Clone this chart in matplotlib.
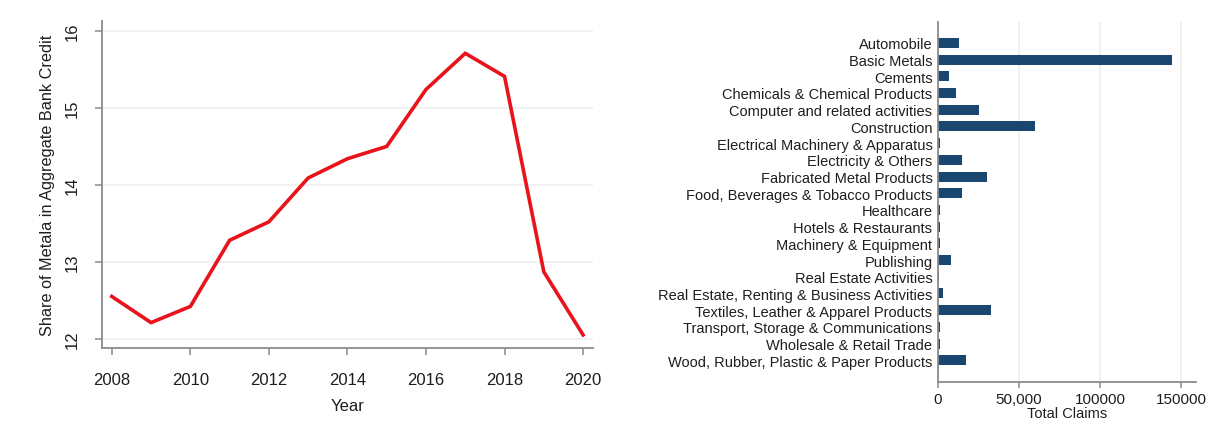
import matplotlib
matplotlib.use("Agg")
import matplotlib.pyplot as plt
from matplotlib.ticker import FixedLocator, FixedFormatter

plt.rcParams['font.family'] = ['Liberation Sans', 'DejaVu Sans']

# Share of metals in aggregate bank credit (%)
years = [2008, 2009, 2010, 2011, 2012, 2013, 2014, 2015, 2016, 2017, 2018, 2019, 2020]
metal_share = [12.55, 12.21, 12.42, 13.28, 13.52, 14.09, 14.34, 14.50, 15.24, 15.71, 15.41, 12.87, 12.05]

# Total claims by industry
industries = [
    "Automobile",
    "Basic Metals",
    "Cements",
    "Chemicals & Chemical Products",
    "Computer and related activities",
    "Construction",
    "Electrical Machinery & Apparatus",
    "Electricity & Others",
    "Fabricated Metal Products",
    "Food, Beverages & Tobacco Products",
    "Healthcare",
    "Hotels & Restaurants",
    "Machinery & Equipment",
    "Publishing",
    "Real Estate Activities",
    "Real Estate, Renting & Business Activities",
    "Textiles, Leather & Apparel Products",
    "Transport, Storage & Communications",
    "Wholesale & Retail Trade",
    "Wood, Rubber, Plastic & Paper Products",
]
total_claims = [13000, 144500, 7000, 11300, 25100, 59600, 1200, 14500, 30400, 14500,
                1500, 1500, 1200, 8000, 800, 3000, 33000, 1200, 1200, 17300]

x_ticks = [0, 50000, 100000, 150000]
x_tick_labels = ["0", "50,000", "100000", "150000"]

spine_col = "#8a8a8a"
grid_col = "#efefef"
text_col = "#1e1e1e"

fig = plt.figure(figsize=(12.11, 4.39), dpi=100)

# ---- Left panel: line chart ----
ax1 = fig.add_axes([0.0842, 0.2050, 0.4054, 0.7449])
ax1.plot(years, metal_share, color="#e8131b", lw=2.6, solid_joinstyle="miter")
ax1.set_xlim(2007.75, 2020.25)
ax1.set_ylim(11.88, 16.13)
ax1.set_xticks(range(2008, 2021, 2))
ax1.set_yticks([12, 13, 14, 15, 16])
ax1.grid(axis="y", color=grid_col, lw=1.2)
ax1.set_axisbelow(True)
for s in ["top", "right"]:
    ax1.spines[s].set_visible(False)
for s in ["left", "bottom"]:
    ax1.spines[s].set_color(spine_col)
    ax1.spines[s].set_linewidth(1.3)
ax1.tick_params(colors=spine_col, labelcolor=text_col, labelsize=12, length=5, width=1.1)
for lbl in ax1.get_yticklabels():
    lbl.set_rotation(90)
    lbl.set_va("center")
ax1.tick_params(axis="x", pad=12)
ax1.tick_params(axis="y", pad=11)
ax1.set_xlabel("Year", fontsize=12, color=text_col, labelpad=8)
ax1.set_ylabel("Share of Metala in Aggregate Bank Credit", fontsize=11.7, color=text_col, labelpad=7)

# ---- Right panel: horizontal bars ----
ax2 = fig.add_axes([0.7746, 0.1276, 0.2130, 0.8200])
pos = list(range(len(industries)))
ax2.barh(pos, total_claims, height=0.6, color="#1a476f")
ax2.set_ylim(len(industries) - 1 + 1.3, -1.25)
ax2.set_xlim(0, 159300)
ax2.set_yticks(pos)
ax2.set_yticklabels(industries)
ax2.xaxis.set_major_locator(FixedLocator(x_ticks))
ax2.xaxis.set_major_formatter(FixedFormatter(x_tick_labels))
ax2.grid(axis="x", color=grid_col, lw=1.2)
ax2.set_axisbelow(True)
for s in ["top", "right"]:
    ax2.spines[s].set_visible(False)
for s in ["left", "bottom"]:
    ax2.spines[s].set_color(spine_col)
    ax2.spines[s].set_linewidth(1.3)
ax2.tick_params(axis="y", length=0, pad=4, labelsize=10.5, labelcolor=text_col)
ax2.tick_params(axis="x", colors=spine_col, labelcolor=text_col, labelsize=11, length=4, width=1.1, pad=3)
ax2.set_xlabel("Total Claims", fontsize=10.5, color=text_col, labelpad=0)

fig.savefig("out.png", dpi=100, facecolor="white")
